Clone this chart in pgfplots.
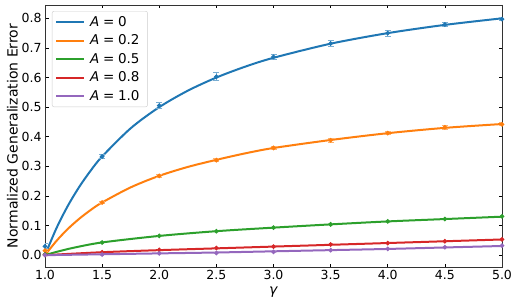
\documentclass[border=0pt]{standalone}
\usepackage{fontspec}
\setmainfont{DejaVu Sans}
\usepackage{pgfplots}
\pgfplotsset{compat=1.18}
\definecolor{tblue}{HTML}{1F77B4}
\definecolor{torange}{HTML}{FF7F0E}
\definecolor{tgreen}{HTML}{2CA02C}
\definecolor{tred}{HTML}{D62728}
\definecolor{tpurple}{HTML}{9467BD}
\begin{document}
\begin{tikzpicture}
\begin{axis}[
  scale only axis, width=457pt, height=262pt,
  xmin=1, xmax=5, ymin=-0.04, ymax=0.845,
  xtick={1,1.5,...,5}, ytick={0,0.1,...,0.8},
  tick align=inside, tick pos=both,
  major tick length=3.5pt,
  every tick/.style={black, line width=0.6pt},
  axis line style={line width=0.8pt, black!80},
  /pgf/number format/assume math mode=true,
  xticklabel style={/pgf/number format/.cd, fixed, fixed zerofill, precision=1},
  yticklabel style={/pgf/number format/.cd, fixed, fixed zerofill, precision=1},
  tick label style={font=\fontsize{12.5}{15}\selectfont},
  label style={font=\fontsize{14}{16}\selectfont},
  xlabel={\textit{γ}}, ylabel={Normalized Generalization Error},
  xlabel style={yshift=0pt}, ylabel style={yshift=-3pt},
  legend style={at={(0.015,0.977)}, anchor=north west, draw=black!20, rounded corners=2pt,
    fill=white, fill opacity=0.8, text opacity=1, font=\fontsize{13.5}{15}\selectfont,
    row sep=3pt, inner xsep=3pt, inner ysep=3pt,
    nodes={inner xsep=5pt}},
  legend cell align=left,
  legend image code/.code={\draw[#1] (0pt,0pt) -- (28pt,0pt);},
  every axis plot/.append style={line width=2pt},
]
% theory curves
\addplot[tblue, smooth] coordinates {(1.0,0) (1.1,0.0909) (1.2,0.1667) (1.3,0.2308) (1.4,0.2857) (1.5,0.3333) (1.75,0.4286) (2.0,0.5) (2.25,0.5556) (2.5,0.6) (2.75,0.6364) (3.0,0.6667) (3.5,0.7143) (4.0,0.75) (4.5,0.7778) (5.0,0.8)};
\addlegendentry{\textit{A}\;=\;0}
\addplot[torange, smooth] coordinates {(1.0,0) (1.1,0.048) (1.2,0.0887) (1.3,0.123) (1.4,0.1526) (1.5,0.178) (1.75,0.229) (2.0,0.268) (2.25,0.298) (2.5,0.322) (2.75,0.3437) (3.0,0.362) (3.5,0.389) (4.0,0.412) (4.5,0.430) (5.0,0.443)};
\addlegendentry{\textit{A}\;=\;0.2}
\addplot[tgreen, smooth] coordinates {(1.0,0) (1.1,0.011) (1.25,0.025) (1.5,0.043) (2.0,0.065) (2.5,0.081) (3.0,0.093) (3.5,0.104) (4.0,0.114) (4.5,0.122) (5.0,0.130)};
\addlegendentry{\textit{A}\;=\;0.5}
\addplot[tred, smooth] coordinates {(1.0,0) (1.5,0.010) (2.0,0.017) (2.5,0.023) (3.0,0.029) (3.5,0.035) (4.0,0.041) (4.5,0.047) (5.0,0.053)};
\addlegendentry{\textit{A}\;=\;0.8}
\addplot[tpurple, smooth] coordinates {(1.0,0) (1.5,0.003) (2.0,0.006) (2.5,0.009) (3.0,0.013) (3.5,0.017) (4.0,0.021) (4.5,0.026) (5.0,0.031)};
\addlegendentry{\textit{A}\;=\;1.0}
% simulation points with error bars
\addplot[forget plot, only marks, mark=*, mark size=1.8pt, tblue, line width=1pt,
  error bars/.cd, y dir=both, y explicit, error bar style={tblue!60, line width=1pt}, error mark options={rotate=90, mark size=3pt, tblue!60, line width=1pt}]
  coordinates {(1.0,0.03) +- (0,0.008) (1.5,0.333) +- (0,0.006) (2.0,0.505) +- (0,0.010) (2.5,0.603) +- (0,0.013) (3.0,0.670) +- (0,0.008) (3.5,0.715) +- (0,0.009) (4.0,0.750) +- (0,0.010) (4.5,0.779) +- (0,0.008) (5.0,0.797) +- (0,0.005)};
\addplot[forget plot, only marks, mark=*, mark size=1.8pt, torange, line width=1pt,
  error bars/.cd, y dir=both, y explicit, error bar style={torange!60, line width=1pt}, error mark options={rotate=90, mark size=3pt, torange!60, line width=1pt}]
  coordinates {(1.0,0.015) +- (0,0.004) (1.5,0.178) +- (0,0.004) (2.0,0.268) +- (0,0.004) (2.5,0.321) +- (0,0.004) (3.0,0.362) +- (0,0.006) (3.5,0.388) +- (0,0.006) (4.0,0.412) +- (0,0.006) (4.5,0.432) +- (0,0.006) (5.0,0.442) +- (0,0.005)};
\addplot[forget plot, only marks, mark=*, mark size=1.8pt, tgreen, line width=1pt,
  error bars/.cd, y dir=both, y explicit, error bar style={tgreen!60, line width=1pt}, error mark options={rotate=90, mark size=2pt, tgreen!60, line width=1pt}]
  coordinates {(1.0,0.003) +- (0,0.002) (1.5,0.043) +- (0,0.002) (2.0,0.065) +- (0,0.002) (2.5,0.081) +- (0,0.002) (3.0,0.093) +- (0,0.002) (3.5,0.104) +- (0,0.002) (4.0,0.114) +- (0,0.002) (4.5,0.122) +- (0,0.002) (5.0,0.131) +- (0,0.002)};
\addplot[forget plot, only marks, mark=*, mark size=1.8pt, tred, line width=1pt,
  error bars/.cd, y dir=both, y explicit, error bar style={tred!60, line width=1pt}, error mark options={rotate=90, mark size=2pt, tred!60, line width=1pt}]
  coordinates {(1.0,0.001) +- (0,0.002) (1.5,0.010) +- (0,0.002) (2.0,0.018) +- (0,0.002) (2.5,0.024) +- (0,0.002) (3.0,0.029) +- (0,0.002) (3.5,0.036) +- (0,0.002) (4.0,0.041) +- (0,0.002) (4.5,0.047) +- (0,0.002) (5.0,0.053) +- (0,0.002)};
\addplot[forget plot, only marks, mark=*, mark size=1.8pt, tpurple, line width=1pt,
  error bars/.cd, y dir=both, y explicit, error bar style={tpurple!60, line width=1pt}, error mark options={rotate=90, mark size=2pt, tpurple!60, line width=1pt}]
  coordinates {(1.0,0.0) +- (0,0.002) (1.5,0.002) +- (0,0.002) (2.0,0.006) +- (0,0.002) (2.5,0.007) +- (0,0.002) (3.0,0.011) +- (0,0.002) (3.5,0.017) +- (0,0.002) (4.0,0.021) +- (0,0.002) (4.5,0.027) +- (0,0.002) (5.0,0.032) +- (0,0.002)};
\end{axis}
\path ([xshift=-45pt,yshift=-37pt]current axis.south west) rectangle ([xshift=16pt,yshift=5pt]current axis.north east);
\end{tikzpicture}
\end{document}
